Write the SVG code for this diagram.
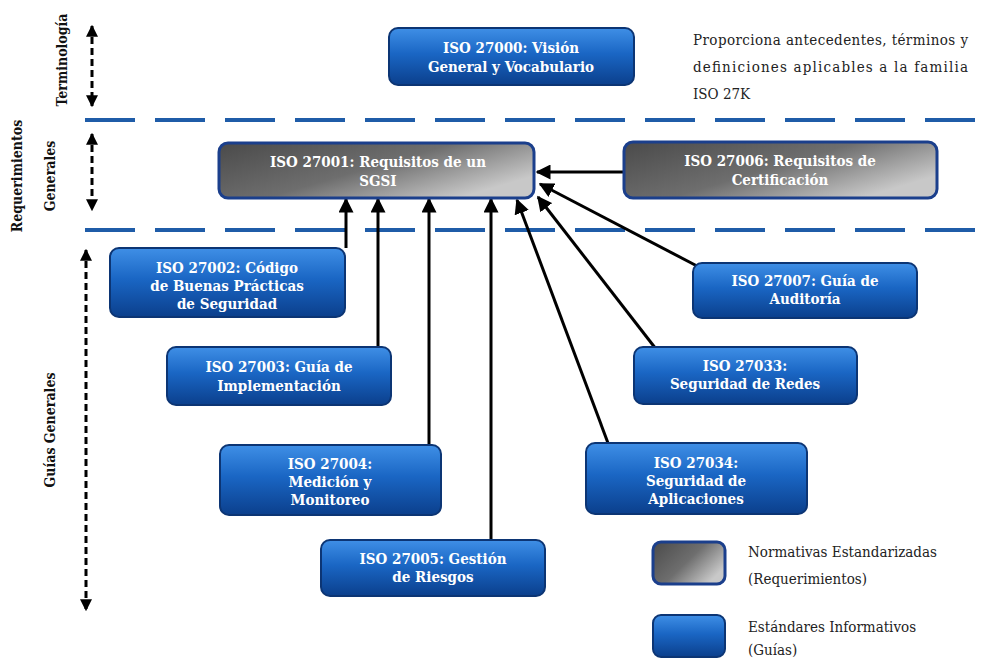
<svg xmlns="http://www.w3.org/2000/svg" width="983" height="660" viewBox="0 0 983 660">
<defs>
<linearGradient id="gBlue" x1="0" y1="0" x2="0" y2="1">
<stop offset="0" stop-color="#3f8fe6"/>
<stop offset="0.45" stop-color="#1a66c4"/>
<stop offset="1" stop-color="#0b3f8c"/>
</linearGradient>
<linearGradient id="gGray" x1="0" y1="0" x2="1" y2="0.6">
<stop offset="0" stop-color="#4a4a4a"/>
<stop offset="0.55" stop-color="#6e6e6e"/>
<stop offset="1" stop-color="#c8c8c8"/>
</linearGradient>
<marker id="ah" viewBox="0 0 10 10" refX="9" refY="5" markerWidth="5" markerHeight="5" orient="auto-start-reverse">
<path d="M0,0 L10,5 L0,10 z" fill="#000"/>
</marker>
<marker id="ahs" viewBox="0 0 10 10" refX="9" refY="5" markerWidth="4" markerHeight="4" orient="auto-start-reverse">
<path d="M0,0 L10,5 L0,10 z" fill="#000"/>
</marker>
</defs>
<style>
.blue{fill:url(#gBlue);stroke:#0c3574;stroke-width:2}
.gray{fill:url(#gGray);stroke:#1b3f8c;stroke-width:3}
text{font-family:'DejaVu Serif Condensed','DejaVu Serif','Liberation Serif',serif}
.bt{font-weight:bold;font-size:15px;fill:#fff;text-anchor:middle}
.desc{font-size:15px;fill:#222}
.side{font-weight:bold;font-size:14px;fill:#111;text-anchor:middle}
.sep{stroke:#1f5ca8;stroke-width:4;stroke-dasharray:50 20;fill:none}
.vd{stroke:#000;stroke-width:3;stroke-dasharray:7 4;fill:none}
.cn{stroke:#000;stroke-width:3;fill:none}
</style>
<rect width="983" height="660" fill="#fff"/>
<g id="separators">
<line class="sep" x1="85" y1="120" x2="978" y2="120"/>
<line class="sep" x1="85" y1="230" x2="978" y2="230"/>
</g>
<g id="side-labels">
<text class="side" transform="translate(67,60) rotate(-90)">Terminología</text>
<text class="side" transform="translate(22,176) rotate(-90)">Requerimientos</text>
<text class="side" transform="translate(55,176) rotate(-90)">Generales</text>
<text class="side" transform="translate(55,430) rotate(-90)">Guías Generales</text>
<line class="vd" x1="92" y1="26" x2="92" y2="106" marker-start="url(#ahs)" marker-end="url(#ahs)"/>
<line class="vd" x1="92" y1="134" x2="92" y2="210" marker-start="url(#ahs)" marker-end="url(#ahs)"/>
<line class="vd" x1="86" y1="250" x2="86" y2="610" marker-start="url(#ahs)" marker-end="url(#ahs)"/>
</g>
<g id="connectors">
<line class="cn" x1="346" y1="248" x2="346" y2="199" marker-end="url(#ah)"/>
<line class="cn" x1="378" y1="347" x2="378" y2="199" marker-end="url(#ah)"/>
<line class="cn" x1="429" y1="445" x2="429" y2="199" marker-end="url(#ah)"/>
<line class="cn" x1="491" y1="540" x2="491" y2="199" marker-end="url(#ah)"/>
<line class="cn" x1="608" y1="443" x2="517" y2="200" marker-end="url(#ah)"/>
<line class="cn" x1="656" y1="349" x2="538" y2="197" marker-end="url(#ah)"/>
<line class="cn" x1="697" y1="266" x2="540" y2="184" marker-end="url(#ah)"/>
<line class="cn" x1="624" y1="172" x2="537" y2="172" marker-end="url(#ah)"/>
</g>
<g id="iso27000">
<rect class="blue" x="389" y="28" width="245" height="57" rx="9"/>
<text class="bt" x="511" y="53">ISO 27000: Visión</text>
<text class="bt" x="511" y="72">General y Vocabulario</text>
</g>
<g id="desc27000">
<text class="desc" x="693" y="45" textLength="275" lengthAdjust="spacing">Proporciona antecedentes, términos y</text>
<text class="desc" x="693" y="72" textLength="275" lengthAdjust="spacing">definiciones aplicables a la familia</text>
<text class="desc" x="693" y="99">ISO 27K</text>
</g>
<g id="iso27001">
<rect class="gray" x="219" y="143" width="315" height="55" rx="9"/>
<text class="bt" x="378" y="167">ISO 27001: Requisitos de un</text>
<text class="bt" x="378" y="186">SGSI</text>
</g>
<g id="iso27006">
<rect class="gray" x="624" y="142" width="313" height="56" rx="9"/>
<text class="bt" x="780" y="166">ISO 27006: Requisitos de</text>
<text class="bt" x="780" y="185">Certificación</text>
</g>
<g id="iso27002">
<rect class="blue" x="110" y="248" width="235" height="69" rx="9"/>
<text class="bt" x="227" y="273">ISO 27002: Código</text>
<text class="bt" x="227" y="291">de Buenas Prácticas</text>
<text class="bt" x="227" y="309">de Seguridad</text>
</g>
<g id="iso27003">
<rect class="blue" x="167" y="347" width="224" height="58" rx="9"/>
<text class="bt" x="279" y="372">ISO 27003: Guía de</text>
<text class="bt" x="279" y="391">Implementación</text>
</g>
<g id="iso27004">
<rect class="blue" x="220" y="445" width="221" height="70" rx="9"/>
<text class="bt" x="330" y="469">ISO 27004:</text>
<text class="bt" x="330" y="487">Medición y</text>
<text class="bt" x="330" y="505">Monitoreo</text>
</g>
<g id="iso27005">
<rect class="blue" x="321" y="540" width="224" height="56" rx="9"/>
<text class="bt" x="433" y="564">ISO 27005: Gestión</text>
<text class="bt" x="433" y="582">de Riesgos</text>
</g>
<g id="iso27007">
<rect class="blue" x="693" y="263" width="224" height="55" rx="9"/>
<text class="bt" x="805" y="286">ISO 27007: Guía de</text>
<text class="bt" x="805" y="304">Auditoría</text>
</g>
<g id="iso27033">
<rect class="blue" x="634" y="347" width="223" height="57" rx="9"/>
<text class="bt" x="745" y="371">ISO 27033:</text>
<text class="bt" x="745" y="389">Seguridad de Redes</text>
</g>
<g id="iso27034">
<rect class="blue" x="586" y="443" width="221" height="71" rx="9"/>
<text class="bt" x="696" y="468">ISO 27034:</text>
<text class="bt" x="696" y="486">Seguridad de</text>
<text class="bt" x="696" y="504">Aplicaciones</text>
</g>
<g id="legend">
<rect class="gray" x="653" y="542" width="72" height="42" rx="8"/>
<text class="desc" x="748" y="557">Normativas Estandarizadas</text>
<text class="desc" x="748" y="584">(Requerimientos)</text>
<rect class="blue" x="653" y="615" width="72" height="42" rx="8"/>
<text class="desc" x="748" y="632">Estándares Informativos</text>
<text class="desc" x="748" y="655">(Guías)</text>
</g>
</svg>
